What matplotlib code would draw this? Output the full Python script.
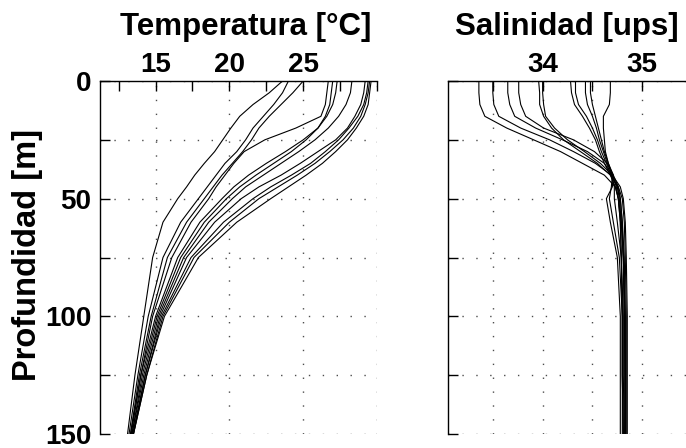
import matplotlib
matplotlib.use('Agg')
import matplotlib.pyplot as plt

# profundidades comunes a todos los perfiles [m]
prof = [0, 5, 10, 15, 20, 25, 30, 35, 40, 45, 50, 60, 75, 100, 125, 150]

# perfiles de temperatura [C]
temp = [
    [23.6, 22.7, 21.6, 20.7, 20.1, 19.55, 19.0, 18.3, 17.65, 17.1, 16.5, 15.5, 14.8, 14.2, 13.6, 13.1],
    [24.0, 23.6, 23.0, 22.3, 21.6, 21.1, 20.5, 19.7, 19.1, 18.5, 17.9, 16.7, 15.5, 14.5, 13.8, 13.2],
    [25.0, 24.3, 23.5, 22.7, 22.0, 21.5, 20.9, 20.2, 19.5, 18.9, 18.3, 17.1, 15.8, 14.7, 13.9, 13.3],
    [26.7, 26.6, 26.5, 26.2, 24.5, 22.4, 21.0, 20.3, 19.7, 19.1, 18.6, 17.4, 16.1, 14.8, 14.0, 13.3],
    [27.0, 26.9, 26.8, 26.5, 26.0, 25.2, 24.2, 23.0, 21.8, 20.7, 19.8, 18.3, 16.7, 15.1, 14.1, 13.4],
    [27.3, 27.2, 27.0, 26.6, 26.0, 25.0, 23.8, 22.5, 21.3, 20.3, 19.5, 18.0, 16.5, 15.0, 14.0, 13.35],
    [28.3, 28.2, 27.9, 27.4, 26.7, 25.8, 24.7, 23.5, 22.3, 21.1, 20.2, 18.6, 16.9, 15.2, 14.2, 13.4],
    [29.2, 29.1, 28.9, 28.5, 28.0, 27.2, 26.0, 24.8, 23.5, 22.0, 20.8, 19.0, 17.1, 15.3, 14.3, 13.45],
    [29.4, 29.3, 29.1, 28.7, 28.1, 27.4, 26.5, 25.5, 24.2, 22.8, 21.6, 19.6, 17.4, 15.4, 14.3, 13.5],
    [29.5, 29.4, 29.2, 28.9, 28.4, 27.7, 26.8, 25.8, 24.6, 23.3, 22.0, 20.0, 17.6, 15.5, 14.4, 13.5],
    [29.6, 29.5, 29.4, 29.1, 28.6, 28.0, 27.2, 26.3, 25.2, 24.0, 22.8, 20.5, 17.9, 15.6, 14.4, 13.5],
]

# perfiles de salinidad [ups]
sal = [
    [33.36, 33.36, 33.37, 33.42, 33.64, 33.91, 34.18, 34.40, 34.62, 34.73, 34.76, 34.78, 34.79, 34.80, 34.80, 34.80],
    [33.50, 33.50, 33.51, 33.56, 33.78, 34.07, 34.31, 34.53, 34.69, 34.75, 34.78, 34.80, 34.81, 34.82, 34.82, 34.82],
    [33.65, 33.65, 33.67, 33.72, 33.93, 34.20, 34.45, 34.62, 34.70, 34.75, 34.77, 34.79, 34.81, 34.82, 34.83, 34.83],
    [33.76, 33.76, 33.78, 33.83, 34.01, 34.31, 34.52, 34.65, 34.71, 34.76, 34.78, 34.80, 34.82, 34.83, 34.83, 34.83],
    [33.96, 33.97, 33.97, 34.01, 34.09, 34.21, 34.38, 34.55, 34.68, 34.76, 34.80, 34.82, 34.83, 34.84, 34.84, 34.84],
    [34.00, 34.00, 34.01, 34.03, 34.12, 34.25, 34.42, 34.58, 34.70, 34.78, 34.81, 34.83, 34.84, 34.85, 34.85, 34.85],
    [34.28, 34.29, 34.32, 34.40, 34.47, 34.53, 34.57, 34.62, 34.68, 34.73, 34.76, 34.79, 34.81, 34.83, 34.83, 34.83],
    [34.33, 34.33, 34.36, 34.44, 34.50, 34.55, 34.59, 34.64, 34.69, 34.72, 34.72, 34.75, 34.79, 34.81, 34.81, 34.82],
    [34.43, 34.43, 34.45, 34.50, 34.54, 34.57, 34.61, 34.65, 34.70, 34.69, 34.67, 34.71, 34.77, 34.80, 34.80, 34.81],
    [34.48, 34.48, 34.50, 34.53, 34.56, 34.59, 34.62, 34.66, 34.71, 34.70, 34.64, 34.68, 34.75, 34.78, 34.78, 34.78],
    [34.68, 34.68, 34.67, 34.61, 34.61, 34.62, 34.63, 34.66, 34.70, 34.74, 34.76, 34.78, 34.79, 34.80, 34.80, 34.81],
]

plt.rcParams['font.family'] = ['Liberation Sans', 'DejaVu Sans']
plt.rcParams['font.weight'] = 'bold'

W, H = 686, 448
fig = plt.figure(figsize=(W / 100, H / 100), dpi=100)

# posiciones en pixeles (izq, abajo, ancho, alto)
ax1 = fig.add_axes([99.5 / W, 14 / H, 277.5 / W, 353 / H])
ax2 = fig.add_axes([448 / W, 14 / H, 252 / W, 353 / H])

for t in temp:
    ax1.plot(t, prof, color='k', lw=0.8)
for s in sal:
    ax2.plot(s, prof, color='k', lw=0.8)

ax1.set_xlim(11.2, 30)
ax2.set_xlim(33.05, 35.58)

for ax in (ax1, ax2):
    ax.set_ylim(150, 0)
    ax.xaxis.tick_top()
    ax.spines['right'].set_visible(False)
    ax.spines['bottom'].set_visible(False)
    for sp in ('left', 'top'):
        ax.spines[sp].set_linewidth(1.0)
    ax.tick_params(which='both', direction='in', length=7, width=1.0,
                   labelsize=20, top=True, bottom=False, left=True, right=False)
    ax.tick_params(axis='x', pad=2.5)
    ax.tick_params(axis='y', pad=6)
    ax.set_yticks([0, 25, 50, 75, 100, 125, 150])
    ax.grid(True, color='0.3', linewidth=1.0, linestyle=(0, (1, 9)))

ax1.set_xticks([15, 20, 25, 30])
ax1.set_xticklabels(['15', '20', '25', ''])
ax1.set_xticks([12.5, 17.5, 22.5, 27.5], minor=True)
ax1.set_yticklabels(['0', '', '50', '', '100', '', '150'])

ax2.set_xticks([33.5, 34, 34.5, 35, 35.5])
ax2.set_xticklabels(['', '34', '', '35', ''])
ax2.set_yticklabels([])

fig.text(246 / W, 1 - 35 / H, 'Temperatura [°C]', ha='center', va='baseline',
         fontsize=22.5, fontweight='bold')
fig.text(567 / W, 1 - 35 / H, 'Salinidad [ups]', ha='center', va='baseline',
         fontsize=22.5, fontweight='bold')
fig.text(28 / W, 1 - 255 / H, 'Profundidad [m]', ha='center', va='center',
         rotation=90, fontsize=23.5, fontweight='bold')

fig.savefig('out.png', dpi=100)
